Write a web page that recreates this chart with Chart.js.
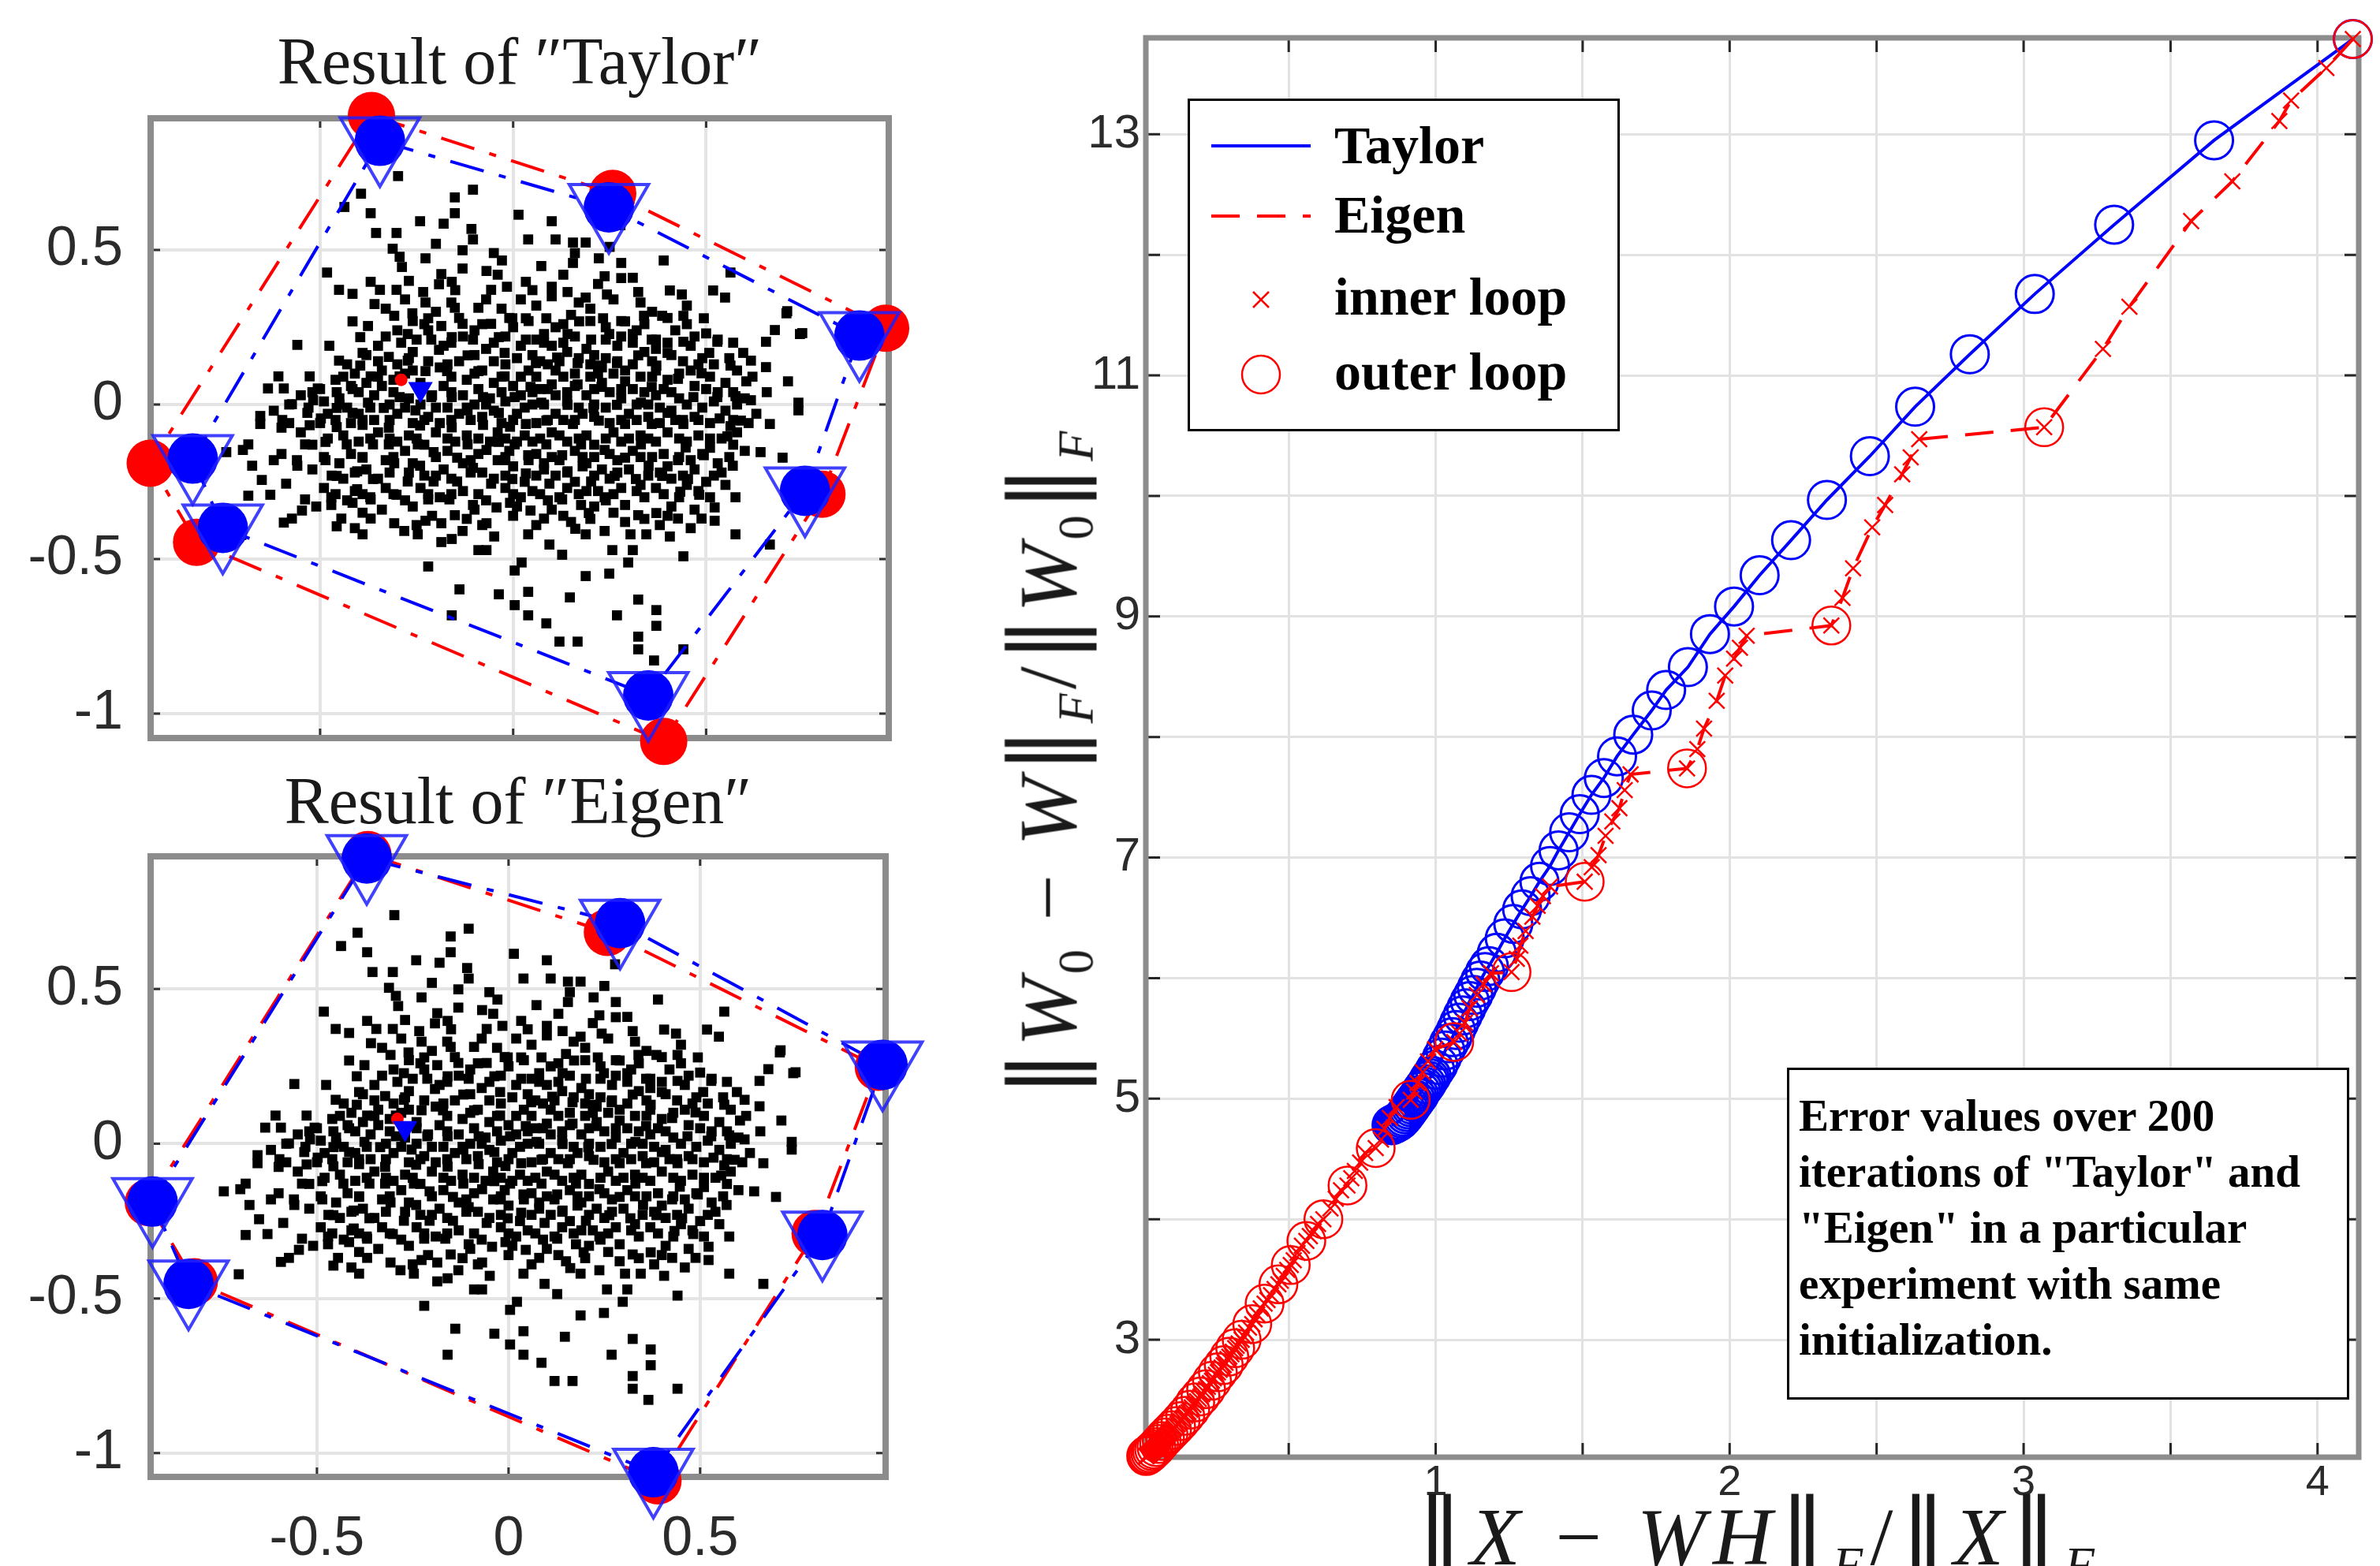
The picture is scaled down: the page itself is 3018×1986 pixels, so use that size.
<!DOCTYPE html>
<html>
<head>
<meta charset="utf-8">
<title>Taylor vs Eigen</title>
<script src="https://cdn.jsdelivr.net/npm/chart.js@4.4.1/dist/chart.umd.min.js"></script>
<style>
html, body { margin: 0; padding: 0; background: #fff; }
body { width: 3018px; height: 1986px; position: relative; overflow: hidden; }
canvas { position: absolute; }
#cTaylor { left: 0; top: 0; }
#cEigen { left: 0; top: 1000px; }
#cError { left: 1300px; top: 0; }
.title { position: absolute; font-family: "Liberation Serif", "DejaVu Serif", serif; font-size: 84px; line-height: 84px; color: #1a1a1a; white-space: nowrap; transform: translateX(-50%); }
.axlabel { position: absolute; font-family: "Liberation Serif", "DejaVu Serif", serif; font-size: 104px; line-height: 104px; color: #1a1a1a; white-space: nowrap; }
.axlabel i { font-style: italic; }
.axlabel sub { font-size: 60%; vertical-align: -0.35em; line-height: 0; }
.axlabel .bar { font-family: "DejaVu Serif", serif; font-size: 112%; }
#xlabel { left: 2231px; top: 1892px; transform: translateX(-50%); letter-spacing: 0.09em; }
#ylabel { left: 1326px; top: 966px; transform: translate(-50%, -50%) rotate(-90deg); letter-spacing: 0.05em; }
#legend { position: absolute; left: 1506px; top: 125px; width: 542px; height: 416px; border: 3px solid #000; background: #fff; }
#legend svg { position: absolute; left: 0; top: 0; }
#legend .item { position: absolute; left: 183px; font-family: "Liberation Serif", serif; font-weight: bold; font-size: 68px; line-height: 68px; color: #000; white-space: nowrap; }
#note { position: absolute; left: 2266px; top: 1354px; width: 695px; height: 393px; padding: 22px 0 0 12px; border: 3px solid #000; background: #fff; font-family: "Liberation Serif", serif; font-weight: bold; font-size: 57px; line-height: 71px; color: #000; white-space: nowrap; }
</style>
</head>
<body>
<canvas id="cTaylor" width="1200" height="1020"></canvas>
<canvas id="cEigen" width="1200" height="986"></canvas>
<canvas id="cError" width="1718" height="1986"></canvas>

<div class="title" style="left:659px; top:36px;">Result of ″Taylor″</div>
<div class="title" style="left:657px; top:974px;">Result of ″Eigen″</div>

<div class="axlabel" id="xlabel"><span class="bar">‖</span><i>X</i> − <i>WH</i><span class="bar">‖</span><sub><i>F</i></sub>/<span class="bar">‖</span><i>X</i><span class="bar">‖</span><sub><i>F</i></sub></div>
<div class="axlabel" id="ylabel"><span class="bar">‖</span><i>W</i><sub>0</sub> − <i>W</i><span class="bar">‖</span><sub><i>F</i></sub>/<span class="bar">‖</span><i>W</i><sub>0</sub><span class="bar">‖</span><sub><i>F</i></sub></div>

<div id="legend">
  <svg width="542" height="416">
    <line x1="27" y1="57" x2="153" y2="57" stroke="#0000ff" stroke-width="4"/>
    <line x1="27" y1="146" x2="153" y2="146" stroke="#ff0000" stroke-width="4" stroke-dasharray="36,22"/>
    <line x1="80" y1="242" x2="100" y2="262" stroke="#ff0000" stroke-width="2.5"/>
    <line x1="80" y1="262" x2="100" y2="242" stroke="#ff0000" stroke-width="2.5"/>
    <circle cx="90" cy="347" r="24" fill="none" stroke="#ff0000" stroke-width="2.5"/>
  </svg>
  <div class="item" style="top:22px;">Taylor</div>
  <div class="item" style="top:110px;">Eigen</div>
  <div class="item" style="top:214px;">inner loop</div>
  <div class="item" style="top:309px;">outer loop</div>
</div>

<div id="note">Error values over 200<br>iterations of "Taylor" and<br>"Eigen" in a particular<br>experiment with same<br>initialization.</div>

<script>
// Sample cloud (same data in both left panels)
const samples = [
  [-0.298,0.739],[-0.394,0.682],[-0.437,0.639],[-0.369,0.619],[-0.104,0.695],[-0.151,0.670],[-0.151,0.619],[-0.241,0.593],
  [-0.180,0.585],[-0.355,0.555],[-0.302,0.555],[-0.108,0.568],[-0.104,0.534],[-0.312,0.504],[-0.131,0.499],[-0.294,0.478],
  [-0.227,0.473],[-0.029,0.466],[-0.482,0.427],[-0.288,0.445],[-0.186,0.422],[-0.131,0.440],[-0.069,0.432],[-0.451,0.371],
  [-0.416,0.358],[-0.369,0.397],[-0.345,0.371],[-0.302,0.371],[-0.233,0.364],[-0.192,0.389],[-0.159,0.397],[-0.057,0.371],
  [-0.016,0.381],[-0.359,0.325],[-0.227,0.330],[-0.151,0.313],[-0.090,0.313],[-0.416,0.269],[-0.376,0.254],[-0.308,0.287],
  [-0.261,0.295],[-0.220,0.279],[-0.186,0.254],[-0.131,0.261],[-0.057,0.261],[-0.002,0.279],[-0.396,0.218],[-0.273,0.228],
  [-0.212,0.210],[-0.159,0.218],[-0.104,0.210],[-0.037,0.218],[-0.559,0.193],[-0.476,0.190],[-0.390,0.167],[-0.322,0.154],
  [-0.273,0.142],[-0.192,0.177],[-0.118,0.159],[-0.022,0.167],[-0.451,0.142],[-0.608,0.091],[-0.527,0.091],[-0.635,0.052],
  [-0.594,0.052],[-0.506,0.052],[-0.457,0.040],[-0.416,0.050],[-0.396,0.126],[-0.369,0.091],[-0.294,0.091],[-0.227,0.108],
  [-0.171,0.108],[-0.090,0.108],[-0.022,0.091],[-0.655,-0.037],[-0.655,-0.063],[-0.598,-0.050],[-0.573,0.001],[-0.518,0.014],
  [-0.533,-0.027],[-0.498,-0.045],[-0.457,-0.011],[-0.416,-0.027],[-0.376,0.006],[-0.335,-0.011],[-0.294,0.024],[-0.253,-0.019],
  [-0.212,0.024],[-0.159,0.024],[-0.118,-0.019],[-0.078,0.024],[-0.037,-0.027],[0.004,0.024],[-0.390,-0.066],[-0.322,-0.075],
  [-0.241,-0.068],[-0.159,-0.074],[-0.078,-0.066],[-0.008,-0.072],[-0.600,-0.075],[-0.527,-0.067],[-0.457,-0.073],
  [0.100,0.593],[0.039,0.534],[0.110,0.534],[0.155,0.524],[0.188,0.524],[0.278,0.580],[0.390,0.466],[0.280,0.458],
  [0.222,0.473],[0.073,0.448],[0.155,0.458],[0.563,0.427],[0.518,0.369],[0.549,0.346],[0.406,0.369],[0.437,0.356],
  [0.243,0.356],[0.324,0.364],[0.280,0.409],[0.237,0.415],[0.033,0.397],[0.100,0.381],[0.141,0.364],[0.188,0.346],
  [0.708,0.295],[0.678,0.241],[0.743,0.228],[0.655,0.203],[0.494,0.279],[0.441,0.287],[0.386,0.287],[0.339,0.287],
  [0.290,0.269],[0.233,0.279],[0.171,0.269],[0.086,0.279],[0.033,0.279],[0.529,0.203],[0.596,0.167],[0.616,0.142],
  [0.563,0.126],[0.655,0.121],[0.508,0.167],[0.441,0.203],[0.400,0.167],[0.359,0.210],[0.310,0.228],[0.249,0.228],
  [0.202,0.210],[0.141,0.228],[0.080,0.228],[0.033,0.210],[0.427,0.083],[0.488,0.101],[0.604,0.075],[0.712,0.075],
  [0.657,0.040],[0.576,0.027],[0.529,0.024],[0.616,0.014],[0.739,0.006],[0.739,-0.019],[0.535,-0.045],[0.590,-0.052],
  [0.665,-0.063],[0.563,-0.070],[0.467,0.024],[0.400,-0.027],[0.441,-0.063],[0.359,0.057],[0.371,0.126],[0.324,0.159],
  [0.269,0.134],[0.222,0.126],[0.167,0.134],[0.114,0.152],[0.059,0.134],[0.290,0.075],[0.229,0.057],[0.167,0.065],
  [0.100,0.065],[0.045,0.057],[0.331,0.006],[0.269,-0.001],[0.208,-0.011],[0.141,-0.001],[0.073,0.006],[0.359,-0.063],
  [0.290,-0.063],[0.222,-0.052],[0.155,-0.063],[0.086,-0.052],[0.033,-0.063],[0.014,0.614],[0.749,0.231],[0.710,0.302],
  [-0.686,-0.129],[-0.743,-0.154],[-0.676,-0.198],[-0.651,-0.244],[-0.620,-0.180],[-0.559,-0.198],[-0.539,-0.129],[-0.486,-0.121],
  [-0.486,-0.180],[-0.588,-0.256],[-0.629,-0.292],[-0.686,-0.295],[-0.539,-0.307],[-0.547,-0.343],[-0.573,-0.369],[-0.471,-0.300],
  [-0.471,-0.325],[-0.445,-0.369],[-0.457,-0.394],[-0.416,-0.318],[-0.404,-0.216],[-0.404,-0.274],[-0.457,-0.231],[-0.431,-0.129],
  [-0.363,-0.129],[-0.390,-0.172],[-0.363,-0.241],[-0.390,-0.420],[-0.369,-0.369],[-0.369,-0.307],[-0.322,-0.129],[-0.308,-0.190],
  [-0.302,-0.292],[-0.308,-0.384],[-0.273,-0.249],[-0.282,-0.409],[-0.247,-0.420],[-0.227,-0.376],[-0.220,-0.307],[-0.241,-0.198],
  [-0.247,-0.129],[-0.206,-0.154],[-0.206,-0.249],[-0.165,-0.307],[-0.186,-0.384],[-0.159,-0.435],[-0.151,-0.358],[-0.145,-0.249],
  [-0.145,-0.172],[-0.118,-0.129],[-0.104,-0.205],[-0.104,-0.325],[-0.131,-0.409],[-0.090,-0.471],[-0.069,-0.384],[-0.049,-0.427],
  [-0.057,-0.256],[-0.043,-0.333],[-0.022,-0.180],[-0.002,-0.241],[-0.008,-0.318],[0.004,-0.129],[-0.037,-0.121],[-0.069,-0.147],
  [-0.220,-0.524],[-0.139,-0.598],[-0.037,-0.614],[0.004,-0.649],[-0.159,-0.682],[0.004,-0.537],[-0.069,-0.471],[-0.186,-0.445],
  [-0.700,-0.147],[-0.704,-0.422],[-0.594,-0.382],
  [0.039,-0.164],[0.086,-0.129],[0.127,-0.164],[0.176,-0.129],[0.237,-0.147],[0.290,-0.172],[0.331,-0.129],[0.351,-0.198],
  [0.427,-0.180],[0.447,-0.139],[0.494,-0.164],[0.555,-0.103],[0.033,-0.223],[0.094,-0.256],[0.141,-0.216],[0.202,-0.249],
  [0.263,-0.231],[0.318,-0.241],[0.386,-0.231],[0.453,-0.241],[0.433,-0.282],[0.482,-0.292],[0.522,-0.333],[0.576,-0.300],
  [0.569,-0.198],[0.641,-0.154],[0.698,-0.172],[0.045,-0.343],[0.080,-0.369],[0.127,-0.307],[0.176,-0.325],[0.196,-0.351],
  [0.237,-0.300],[0.290,-0.325],[0.324,-0.358],[0.371,-0.351],[0.427,-0.369],[0.488,-0.369],[0.522,-0.376],[0.576,-0.420],
  [0.665,-0.453],[0.039,-0.420],[0.094,-0.453],[0.161,-0.402],[0.188,-0.420],[0.237,-0.409],[0.304,-0.420],[0.345,-0.420],
  [0.406,-0.427],[0.257,-0.471],[0.310,-0.471],[0.127,-0.486],[0.441,-0.491],[0.298,-0.511],[0.022,-0.511],[0.249,-0.547],
  [0.188,-0.555],[0.039,-0.606],[0.147,-0.624],[0.324,-0.631],[0.371,-0.665],[0.269,-0.682],[0.039,-0.682],[0.086,-0.708],
  [0.371,-0.716],[0.324,-0.751],[0.120,-0.767],[0.167,-0.767],[0.324,-0.792],[0.365,-0.828],[0.441,-0.792],
  [-0.33,0.31],[-0.20,0.30],[-0.03,0.31],[0.06,0.32],[0.20,0.31],[0.36,0.30],
  [-0.30,0.24],[-0.22,0.24],[-0.10,0.24],[0.00,0.25],[0.11,0.25],[0.24,0.25],[0.32,0.24],[0.42,0.24],[0.50,0.23],
  [-0.35,0.19],[-0.18,0.19],[-0.07,0.18],[0.02,0.19],[0.10,0.19],[0.19,0.18],[0.27,0.19],[0.37,0.18],[0.46,0.19],[0.57,0.20],
  [-0.43,0.13],[-0.30,0.13],[-0.22,0.14],[-0.14,0.14],[-0.05,0.14],[0.01,0.15],[0.09,0.13],[0.17,0.15],[0.24,0.15],[0.31,0.13],[0.44,0.14],[0.52,0.13],
  [-0.46,0.08],[-0.38,0.07],[-0.31,0.08],[-0.24,0.07],[-0.12,0.08],[-0.05,0.07],[0.02,0.09],[0.13,0.09],[0.20,0.09],[0.26,0.10],[0.33,0.09],[0.40,0.08],[0.55,0.07],[0.62,0.09],
  [-0.55,0.03],[-0.45,0.02],[-0.36,0.03],[-0.27,0.02],[-0.21,0.03],[-0.13,0.03],[-0.06,0.02],[0.02,0.03],[0.11,0.03],[0.19,0.03],[0.25,0.04],[0.37,0.03],[0.43,0.02],[0.50,0.05],
  [-0.62,-0.02],[-0.48,-0.03],[-0.40,-0.03],[-0.30,-0.03],[-0.22,-0.04],[-0.14,-0.03],[-0.05,-0.02],[0.01,-0.03],[0.11,-0.03],[0.18,-0.03],[0.30,-0.03],[0.41,-0.02],[0.47,-0.04],[0.55,-0.02],[0.63,-0.03],
  [-0.55,-0.09],[-0.44,-0.10],[-0.35,-0.09],[-0.27,-0.10],[-0.20,-0.09],[-0.12,-0.10],[-0.04,-0.09],[0.03,-0.10],[0.10,-0.09],[0.19,-0.10],[0.26,-0.09],[0.33,-0.10],[0.40,-0.09],[0.48,-0.10],[0.58,-0.09],
  [-0.60,-0.16],[-0.42,-0.16],[-0.28,-0.15],[-0.17,-0.15],[-0.09,-0.16],[-0.01,-0.15],[0.06,-0.16],[0.16,-0.15],[0.21,-0.17],[0.31,-0.15],[0.39,-0.16],[0.51,-0.14],[0.60,-0.15],
  [-0.52,-0.21],[-0.38,-0.21],[-0.27,-0.22],[-0.18,-0.21],[-0.08,-0.22],[0.00,-0.20],[0.08,-0.21],[0.18,-0.20],[0.23,-0.21],[0.30,-0.21],[0.35,-0.23],[0.47,-0.21],[0.54,-0.22],
  [-0.49,-0.27],[-0.41,-0.28],[-0.33,-0.27],[-0.24,-0.27],[-0.13,-0.28],[-0.02,-0.27],[0.05,-0.28],[0.14,-0.27],[0.22,-0.28],[0.28,-0.27],[0.37,-0.27],[0.45,-0.26],[0.55,-0.26],
  [-0.51,-0.33],[-0.34,-0.34],[-0.26,-0.33],[-0.10,-0.34],[0.01,-0.33],[0.10,-0.34],[0.21,-0.33],[0.26,-0.35],[0.41,-0.33],[0.47,-0.34],
  [-0.41,-0.40],[-0.25,-0.39],[-0.08,-0.39],[0.06,-0.39],[0.15,-0.38],[0.29,-0.38],[0.38,-0.39],[0.46,-0.40],
  [-0.27,0.40],[-0.15,0.37],[-0.04,0.42],[0.05,0.37],[0.13,0.42],[0.22,0.39],[0.31,0.41],
  [-0.20,0.52],[-0.05,0.49],[0.16,0.49],[0.25,0.51],
  [-0.26,0.27],[-0.14,0.28],[-0.01,0.28],[0.15,0.29],[0.28,0.27],[0.40,0.28],
  [-0.33,0.22],[-0.25,0.21],[-0.13,0.22],[-0.02,0.22],[0.06,0.21],[0.16,0.22],[0.28,0.22],[0.37,0.21],[0.47,0.22],
  [-0.38,0.16],[-0.26,0.17],[-0.10,0.16],[0.05,0.16],[0.14,0.17],[0.21,0.16],[0.34,0.17],[0.41,0.16],[0.49,0.15],
  [-0.41,0.10],[-0.34,0.11],[-0.26,0.11],[-0.19,0.12],[-0.08,0.11],[0.04,0.11],[0.11,0.11],[0.23,0.12],[0.29,0.11],[0.37,0.11],[0.46,0.11],[0.58,0.11],
  [-0.50,0.05],[-0.42,0.06],[-0.34,0.06],[-0.18,0.06],[-0.09,0.05],[0.00,0.06],[0.07,0.05],[0.16,0.06],[0.23,0.07],[0.31,0.05],[0.39,0.05],[0.47,0.06],[0.53,0.04],
  [-0.58,0.00],[-0.49,0.01],[-0.43,-0.01],[-0.32,0.00],[-0.24,0.00],[-0.17,-0.01],[-0.10,0.00],[-0.02,0.01],[0.05,0.00],[0.14,0.01],[0.21,0.00],[0.28,0.02],[0.35,0.00],[0.45,0.00],[0.52,0.01],[0.60,0.02],
  [-0.58,-0.06],[-0.50,-0.06],[-0.42,-0.06],[-0.36,-0.05],[-0.26,-0.06],[-0.19,-0.06],[-0.11,-0.05],[-0.03,-0.06],[0.06,-0.06],[0.13,-0.05],[0.25,-0.06],[0.32,-0.05],[0.38,-0.06],[0.44,-0.05],[0.51,-0.06],[0.61,-0.06],
  [-0.52,-0.13],[-0.40,-0.12],[-0.30,-0.12],[-0.23,-0.13],[-0.15,-0.12],[-0.06,-0.12],[0.01,-0.12],[0.07,-0.11],[0.14,-0.12],[0.21,-0.13],[0.28,-0.12],[0.37,-0.12],[0.43,-0.11],[0.51,-0.11],[0.57,-0.13],
  [-0.56,-0.18],[-0.45,-0.19],[-0.33,-0.18],[-0.26,-0.19],[-0.13,-0.19],[-0.04,-0.18],[0.08,-0.19],[0.12,-0.18],[0.19,-0.19],[0.27,-0.18],[0.33,-0.17],[0.40,-0.20],[0.46,-0.18],[0.53,-0.19],
  [-0.44,-0.24],[-0.35,-0.24],[-0.23,-0.23],[-0.16,-0.24],[-0.05,-0.24],[0.03,-0.25],[0.11,-0.23],[0.16,-0.25],[0.25,-0.24],[0.33,-0.26],[0.41,-0.24],[0.50,-0.25],
  [-0.43,-0.31],[-0.37,-0.30],[-0.28,-0.31],[-0.19,-0.30],[-0.07,-0.31],[0.02,-0.30],[0.09,-0.31],[0.17,-0.29],[0.24,-0.31],[0.34,-0.30],[0.43,-0.30],[0.51,-0.30],
  [-0.39,-0.35],[-0.21,-0.36],[-0.12,-0.37],[0.00,-0.36],[0.13,-0.36],[0.20,-0.37],[0.34,-0.37],[0.40,-0.36],
  [-0.23,0.26],[-0.08,0.26],[0.04,0.27],[0.13,0.26],[0.20,0.27],[0.34,0.26],[0.45,0.26],
  [-0.29,0.20],[-0.16,0.20],[-0.05,0.20],[0.08,0.20],[0.13,0.20],[0.24,0.21],[0.31,0.20],[0.40,0.20],[0.53,0.21],
  [-0.35,0.14],[-0.27,0.15],[-0.17,0.13],[-0.02,0.13],[0.07,0.14],[0.12,0.14],[0.20,0.13],[0.27,0.14],[0.36,0.14],[0.48,0.13],[0.56,0.15],
  [-0.44,0.09],[-0.35,0.09],[-0.28,0.10],[-0.16,0.09],[-0.10,0.10],[-0.03,0.09],[0.06,0.09],[0.16,0.10],[0.22,0.10],[0.36,0.09],[0.43,0.10],[0.51,0.09],
  [-0.52,0.04],[-0.40,0.04],[-0.31,0.04],[-0.24,0.05],[-0.16,0.04],[-0.03,0.04],[0.05,0.04],[0.09,0.05],[0.14,0.04],[0.21,0.05],[0.28,0.05],[0.34,0.04],[0.41,0.04],[0.57,0.04],
  [-0.53,-0.01],[-0.45,0.00],[-0.37,-0.01],[-0.28,-0.01],[-0.20,-0.01],[-0.12,-0.01],[-0.07,0.00],[0.03,-0.01],[0.08,0.00],[0.17,-0.01],[0.24,-0.01],[0.32,0.00],[0.38,-0.01],[0.49,-0.01],[0.58,0.00],
  [-0.46,-0.05],[-0.39,-0.05],[-0.32,-0.05],[-0.23,-0.05],[-0.16,-0.05],[-0.08,-0.04],[0.00,-0.05],[0.09,-0.05],[0.16,-0.05],[0.21,-0.04],[0.28,-0.05],[0.35,-0.04],[0.42,-0.05],[0.48,-0.05],[0.57,-0.05],
  [-0.48,-0.11],[-0.37,-0.11],[-0.32,-0.11],[-0.25,-0.11],[-0.17,-0.11],[-0.09,-0.11],[-0.02,-0.11],[0.05,-0.12],[0.12,-0.10],[0.17,-0.11],[0.24,-0.11],[0.30,-0.11],[0.35,-0.11],[0.45,-0.12],[0.54,-0.11],
  [-0.49,-0.17],[-0.39,-0.17],[-0.31,-0.17],[-0.20,-0.17],[-0.11,-0.18],[-0.02,-0.17],[0.04,-0.18],[0.10,-0.17],[0.18,-0.17],[0.25,-0.16],[0.36,-0.17],[0.43,-0.17],[0.49,-0.16],[0.56,-0.17],
  [-0.47,-0.23],[-0.41,-0.22],[-0.32,-0.22],[-0.20,-0.23],[-0.11,-0.22],[-0.02,-0.23],[0.06,-0.23],[0.14,-0.22],[0.21,-0.23],[0.27,-0.22],[0.38,-0.22],[0.44,-0.23],[0.52,-0.23],
  [-0.46,-0.29],[-0.39,-0.29],[-0.31,-0.29],[-0.22,-0.29],[-0.16,-0.29],[-0.09,-0.29],[0.00,-0.29],[0.07,-0.29],[0.12,-0.30],[0.19,-0.28],[0.26,-0.29],[0.32,-0.28],[0.39,-0.29],[0.48,-0.28],
  [-0.28,0.34],[-0.16,0.33],[-0.07,0.34],[0.02,0.34],[0.10,0.35],[0.17,0.33],[0.26,0.34],[0.33,0.33],[0.45,0.32]
];

// Vertices: red = reference, blue = estimate of each method
const trueX = [-0.367, 0.258, 0.965, 0.800, 0.390, -0.820, -0.940];
const trueY = [0.935, 0.683, 0.247, -0.290, -1.090, -0.446, -0.190];
const taylorVX = [-0.345, 0.248, 0.897, 0.756, 0.350, -0.752, -0.830];
const taylorVY = [0.853, 0.638, 0.223, -0.279, -0.941, -0.399, -0.175];
const eigenVX = [-0.370, 0.291, 0.976, 0.819, 0.378, -0.835, -0.929];
const eigenVY = [0.922, 0.713, 0.255, -0.295, -1.062, -0.453, -0.187];
const trueCenter = [-0.29, 0.08];
const taylorCenter = [-0.24, 0.05];
const eigenCenter = [-0.27, 0.05];

const panelXTicks = [-0.5, 0, 0.5];
const panelXLabels = ['-0.5', '0', '0.5'];
const panelYTicks = [-1, -0.5, 0, 0.5];
const panelYLabels = ['-1', '-0.5', '0', '0.5'];

// Error curves (200 iterations)
const taylorX = [4.12, 3.648, 3.308, 3.038, 2.817, 2.631, 2.477, 2.331, 2.209, 2.102, 2.015, 1.933, 1.858, 1.784, 1.735,
  1.672, 1.617, 1.572, 1.53, 1.49, 1.454, 1.418, 1.389, 1.353, 1.323, 1.294, 1.264, 1.235, 1.208, 1.181,
  1.168, 1.152, 1.140, 1.128, 1.116, 1.104, 1.092, 1.080, 1.069, 1.057, 1.045, 1.033, 1.021, 1.009, 0.998, 0.986,
  0.980, 0.975, 0.968, 0.962, 0.956, 0.950, 0.944, 0.938, 0.932, 0.926, 0.920, 0.915, 0.909, 0.903, 0.897, 0.891,
  0.885, 0.879, 0.873, 0.867, 0.862, 0.858, 0.854, 0.85];
const taylorY = [13.79, 12.95, 12.25, 11.675, 11.175, 10.74, 10.33, 9.967, 9.633, 9.342, 9.083, 8.854, 8.58, 8.39, 8.22,
  8.02, 7.84, 7.66, 7.52, 7.36, 7.21, 7.06, 6.93, 6.80, 6.68, 6.57, 6.45, 6.33, 6.21, 6.10,
  6.05, 5.98, 5.92, 5.86, 5.81, 5.75, 5.69, 5.63, 5.57, 5.51, 5.46, 5.40, 5.34, 5.28, 5.24, 5.19,
  5.17, 5.15, 5.12, 5.10, 5.08, 5.06, 5.03, 5.01, 4.99, 4.97, 4.95, 4.93, 4.91, 4.89, 4.87, 4.85,
  4.835, 4.82, 4.81, 4.80, 4.795, 4.79, 4.785, 4.78];

const eigenX = [4.12, 4.03, 3.91, 3.87, 3.71, 3.57, 3.36, 3.27, 3.07,
  2.645, 2.616, 2.587, 2.529, 2.485, 2.42, 2.384, 2.346,
  2.058, 2.035, 2.015, 1.985, 1.956, 1.913, 1.89, 1.855,
  1.663, 1.643, 1.625, 1.601, 1.578, 1.554, 1.531, 1.507,
  1.389, 1.365, 1.347, 1.329, 1.306, 1.288, 1.276, 1.258,
  1.188, 1.163, 1.14, 1.116, 1.099, 1.081, 1.063,
  0.998, 0.974, 0.956, 0.938, 0.927, 0.915,
  0.867, 0.844, 0.826, 0.814, 0.796,
  0.76, 0.743, 0.725, 0.713, 0.70,
  0.678, 0.66, 0.642, 0.618,
  0.60, 0.585, 0.572, 0.56,
  0.545, 0.53, 0.517, 0.507,
  0.495, 0.483, 0.473, 0.465,
  0.452, 0.44, 0.428, 0.418,
  0.405, 0.393, 0.384, 0.376,
  0.365, 0.355, 0.347, 0.34,
  0.33, 0.323, 0.318,
  0.31, 0.305, 0.298,
  0.292, 0.285, 0.279,
  0.272, 0.265, 0.259,
  0.252, 0.245, 0.239,
  0.232, 0.225, 0.219,
  0.212, 0.206, 0.200,
  0.194, 0.188, 0.182,
  0.176, 0.170, 0.165,
  0.159, 0.153, 0.148,
  0.142, 0.137, 0.132,
  0.127, 0.122, 0.117,
  0.112, 0.108, 0.103,
  0.099, 0.095, 0.091,
  0.087, 0.083, 0.079,
  0.075, 0.072, 0.068,
  0.065, 0.062, 0.059,
  0.056, 0.053, 0.050,
  0.047, 0.045, 0.042,
  0.040, 0.037, 0.035,
  0.033, 0.031, 0.029,
  0.027, 0.025, 0.023,
  0.021, 0.020, 0.018,
  0.017, 0.016, 0.015];
const eigenY = [13.79, 13.55, 13.28, 13.11, 12.61, 12.28, 11.57, 11.22, 10.57,
  10.47, 10.32, 10.18, 9.925, 9.74, 9.40, 9.154, 8.925,
  8.84, 8.74, 8.65, 8.51, 8.30, 8.07, 7.90, 7.74,
  7.69, 7.56, 7.41, 7.30, 7.18, 7.02, 6.92, 6.80,
  6.76, 6.68, 6.60, 6.51, 6.39, 6.27, 6.16, 6.05,
  6.04, 5.95, 5.86, 5.75, 5.63, 5.54, 5.47,
  5.41, 5.31, 5.22, 5.13, 5.06, 4.99,
  4.93, 4.84, 4.75, 4.66, 4.59,
  4.55, 4.47, 4.40, 4.34, 4.28,
  4.24, 4.17, 4.09, 4.00,
  3.96, 3.90, 3.86, 3.82,
  3.78, 3.72, 3.66, 3.62,
  3.58, 3.53, 3.49, 3.46,
  3.42, 3.37, 3.33, 3.30,
  3.26, 3.21, 3.17, 3.13,
  3.10, 3.06, 3.03, 3.00,
  2.97, 2.95, 2.93,
  2.90, 2.88, 2.86,
  2.84, 2.81, 2.79,
  2.77, 2.75, 2.73,
  2.71, 2.68, 2.66,
  2.64, 2.61, 2.59,
  2.57, 2.55, 2.53,
  2.51, 2.49, 2.48,
  2.46, 2.44, 2.42,
  2.40, 2.39, 2.37,
  2.355, 2.34, 2.325,
  2.31, 2.30, 2.285,
  2.27, 2.26, 2.25,
  2.24, 2.23, 2.22,
  2.21, 2.20, 2.19,
  2.18, 2.17, 2.16,
  2.15, 2.14, 2.135,
  2.125, 2.12, 2.11,
  2.10, 2.095, 2.09,
  2.085, 2.08, 2.075,
  2.07, 2.065, 2.06,
  2.055, 2.052, 2.048,
  2.045, 2.042, 2.04,
  2.038, 2.036, 2.035];

// outer loop updates of "Eigen"
const outerX = [4.12, 3.07, 2.346, 1.855, 1.507, 1.258, 1.063, 0.915, 0.796, 0.70, 0.618, 0.56, 0.507, 0.465, 0.418,
  0.376, 0.34, 0.318, 0.298, 0.279, 0.259, 0.239, 0.219, 0.200, 0.182, 0.165, 0.148, 0.132, 0.117, 0.103, 0.091,
  0.079, 0.068, 0.059, 0.050, 0.042, 0.035, 0.029, 0.023, 0.018, 0.015];
const outerY = [13.79, 10.57, 8.925, 7.74, 6.80, 6.05, 5.47, 4.99, 4.59, 4.28, 4.00, 3.82, 3.62, 3.46, 3.30,
  3.13, 3.00, 2.93, 2.86, 2.79, 2.73, 2.66, 2.59, 2.53, 2.48, 2.42, 2.37, 2.325, 2.285, 2.25, 2.22,
  2.19, 2.16, 2.135, 2.11, 2.09, 2.075, 2.06, 2.048, 2.04, 2.035];

const errXTicks = [0.5, 1, 1.5, 2, 2.5, 3, 3.5, 4];
const errXLabels = ['', '1', '', '2', '', '3', '', '4'];
const errYTicks = [3, 4, 5, 6, 7, 8, 9, 10, 11, 12, 13];
const errYLabels = ['3', '', '5', '', '7', '', '9', '', '11', '', '13'];

const BLUE = '#0000ff';
const RED = '#ff0000';

function pts(xs, ys) {
    return xs.map((x, i) => ({ x: x, y: ys[i] }));
}

function closedLoop(xs, ys) {
    const p = pts(xs, ys);
    return p.concat([p[0]]);
}

// MATLAB-like box: gray frame with inward tick marks on all four sides
const axesBox = {
    id: 'axesBox',
    beforeDatasetsDraw(chart, args, opts) {
        const { ctx, chartArea: a, scales } = chart;
        ctx.save();
        ctx.strokeStyle = opts.tickColor;
        ctx.lineWidth = opts.tickWidth;
        ctx.beginPath();
        scales.x.ticks.forEach(t => {
            const px = scales.x.getPixelForValue(t.value);
            ctx.moveTo(px, a.bottom); ctx.lineTo(px, a.bottom - opts.tickLen);
            ctx.moveTo(px, a.top); ctx.lineTo(px, a.top + opts.tickLen);
        });
        scales.y.ticks.forEach(t => {
            const py = scales.y.getPixelForValue(t.value);
            ctx.moveTo(a.left, py); ctx.lineTo(a.left + opts.tickLen, py);
            ctx.moveTo(a.right, py); ctx.lineTo(a.right - opts.tickLen, py);
        });
        ctx.stroke();
        ctx.strokeStyle = opts.frameColor;
        ctx.lineWidth = opts.frameWidth;
        ctx.strokeRect(a.left, a.top, a.right - a.left, a.bottom - a.top);
        ctx.restore();
    }
};
Chart.register(axesBox);

// One vertex panel ("Taylor" or "Eigen")
function vertexPanel(id, vx, vy, center, range, layout) {
    return new Chart(document.getElementById(id), {
        type: 'scatter',
        data: {
            datasets: [
                { data: samples.map(p => ({ x: p[0], y: p[1] })), pointStyle: 'rect', pointRadius: 9,
                  pointBackgroundColor: '#000', pointBorderWidth: 0, order: 10 },
                { data: closedLoop(trueX, trueY), showLine: true, borderColor: RED, borderWidth: 4,
                  borderDash: [44, 20, 9, 20], pointRadius: 0, order: 9, clip: false },
                { data: closedLoop(vx, vy), showLine: true, borderColor: BLUE, borderWidth: 4,
                  borderDash: [44, 20, 9, 20], pointRadius: 0, order: 8, clip: false },
                { data: pts(trueX, trueY), pointRadius: 30, pointBackgroundColor: RED, pointBorderWidth: 0, order: 7, clip: false },
                { data: pts(vx, vy), pointRadius: 32, pointBackgroundColor: BLUE, pointBorderWidth: 0, order: 6, clip: false },
                { data: pts(vx, vy), pointStyle: 'triangle', pointRotation: 180, pointRadius: 58,
                  pointBackgroundColor: 'rgba(0,0,0,0)', pointBorderColor: 'rgba(30,30,255,0.85)', pointBorderWidth: 4, order: 5, clip: false },
                { data: [{ x: trueCenter[0], y: trueCenter[1] }], pointRadius: 8, pointBackgroundColor: RED, pointBorderWidth: 0, order: 4 },
                { data: [{ x: center[0], y: center[1] }], pointStyle: 'triangle', pointRotation: 180, pointRadius: 16,
                  pointBackgroundColor: BLUE, pointBorderColor: BLUE, pointBorderWidth: 2, order: 3 }
            ]
        },
        options: {
            animation: false,
            responsive: false,
            devicePixelRatio: 1,
            layout: { padding: { top: layout.top, left: 0, right: layout.right, bottom: 0 } },
            plugins: {
                legend: { display: false },
                tooltip: { enabled: false },
                axesBox: { frameColor: '#8c8c8c', frameWidth: 8, tickColor: '#333', tickWidth: 3, tickLen: 12 }
            },
            scales: {
                x: {
                    type: 'linear', min: range[0], max: range[1],
                    afterBuildTicks: s => { s.ticks = panelXTicks.map(v => ({ value: v })); },
                    afterFit: s => { s.height = layout.xh; },
                    grid: { color: '#e4e4e4', lineWidth: 4, drawTicks: false },
                    border: { display: false },
                    ticks: {
                        display: layout.xLabels, autoSkip: false, maxRotation: 0, padding: 38,
                        font: { family: '"Liberation Sans", Arial, sans-serif', size: 70 }, color: '#2b2b2b',
                        callback: (v, i) => panelXLabels[i]
                    }
                },
                y: {
                    type: 'linear', min: range[2], max: range[3],
                    afterBuildTicks: s => { s.ticks = panelYTicks.map(v => ({ value: v })); },
                    afterFit: s => { s.width = 191; },
                    grid: { color: '#e4e4e4', lineWidth: 4, drawTicks: false },
                    border: { display: false },
                    ticks: {
                        autoSkip: false, padding: 35,
                        font: { family: '"Liberation Sans", Arial, sans-serif', size: 70 }, color: '#2b2b2b',
                        callback: (v, i) => panelYLabels[i]
                    }
                }
            }
        }
    });
}

vertexPanel('cTaylor', taylorVX, taylorVY, taylorCenter, [-0.939, 0.973, -1.079, 0.926],
    { top: 150, right: 73, xh: 84, xLabels: false });
vertexPanel('cEigen', eigenVX, eigenVY, eigenCenter, [-0.934, 0.984, -1.077, 0.929],
    { top: 86, right: 77, xh: 113, xLabels: true });

// Error trajectories
new Chart(document.getElementById('cError'), {
    type: 'scatter',
    data: {
        datasets: [
            { data: pts(taylorX, taylorY), showLine: true, borderColor: BLUE, borderWidth: 4,
              pointStyle: 'circle', pointRadius: 24, pointBorderColor: BLUE, pointBorderWidth: 3,
              pointBackgroundColor: 'rgba(0,0,0,0)', order: 3, clip: false },
            { data: pts(eigenX, eigenY), showLine: true, borderColor: RED, borderWidth: 4, borderDash: [36, 22],
              pointStyle: 'crossRot', pointRadius: 14, pointBorderColor: RED, pointBorderWidth: 2.5, order: 2, clip: false },
            { data: pts(outerX, outerY), pointStyle: 'circle', pointRadius: 24, pointBorderColor: RED,
              pointBorderWidth: 2.5, pointBackgroundColor: 'rgba(0,0,0,0)', order: 1, clip: false }
        ]
    },
    options: {
        animation: false,
        responsive: false,
        devicePixelRatio: 1,
        layout: { padding: { top: 48, left: 0, right: 8, bottom: 0 } },
        plugins: {
            legend: { display: false },
            tooltip: { enabled: false },
            axesBox: { frameColor: '#8c8c8c', frameWidth: 7, tickColor: '#262626', tickWidth: 3, tickLen: 18 }
        },
        scales: {
            x: {
                type: 'linear', min: 0.014, max: 4.14,
                afterBuildTicks: s => { s.ticks = errXTicks.map(v => ({ value: v })); },
                afterFit: s => { s.height = 138; },
                grid: { color: '#e2e2e2', lineWidth: 3, drawTicks: false },
                border: { display: false },
                ticks: {
                    autoSkip: false, maxRotation: 0, padding: 1,
                    font: { family: '"Liberation Sans", Arial, sans-serif', size: 54 }, color: '#2b2b2b',
                    callback: (v, i) => errXLabels[i]
                }
            },
            y: {
                type: 'linear', min: 2.026, max: 13.8,
                afterBuildTicks: s => { s.ticks = errYTicks.map(v => ({ value: v })); },
                afterFit: s => { s.width = 153; },
                grid: { color: '#e2e2e2', lineWidth: 3, drawTicks: false },
                border: { display: false },
                ticks: {
                    autoSkip: false, padding: 7,
                    font: { family: '"Liberation Sans", Arial, sans-serif', size: 60 }, color: '#2b2b2b',
                    callback: (v, i) => errYLabels[i]
                }
            }
        }
    }
});
</script>
</body>
</html>
